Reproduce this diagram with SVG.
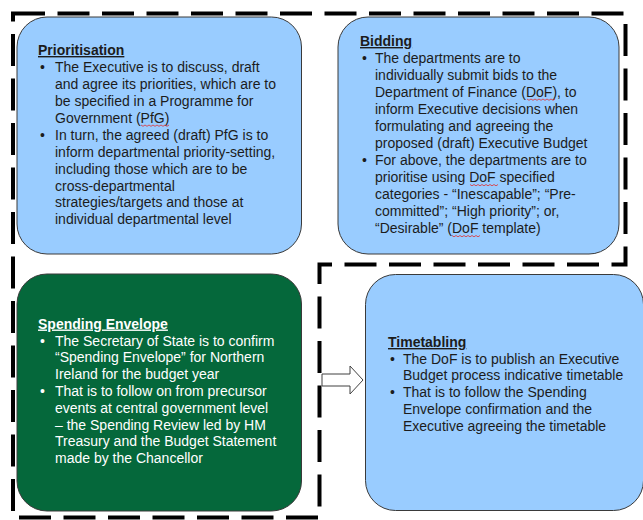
<svg xmlns="http://www.w3.org/2000/svg" xmlns:xlink="http://www.w3.org/1999/xlink" width="643" height="520" viewBox="0 0 643 520">
<style>
.box{stroke:#3a3a3a;stroke-width:1}
.blue{fill:#99CCFF}
.green{fill:#05683B}
text{font-family:"Liberation Sans",Arial,sans-serif;font-size:14px}
.dk{fill:#1c1c1c}
.wt{fill:#ffffff}
.ttl{font-weight:bold;text-decoration:underline}
.sq{fill:none;stroke:#e03030;stroke-width:0.8}
</style>
<defs>
<path id="squig" d="M0,0 l2,1.3 l2,-1.3 l2,1.3 l2,-1.3 l2,1.3 l2,-1.3 l2,1.3 l2,-1.3 l2,1.3 l2,-1.3 l2,1.3 l2,-1.3 l2,1.3 l2,-1.3"/>
</defs>
<rect width="643" height="520" fill="#ffffff"/>
<g id="connectors">
<path d="M13,13.5 H625.5 V264.5 H319.5 V517.5 H13 Z" fill="none" stroke="#000" stroke-width="4" stroke-dasharray="32 12.5"/>
<polygon points="322,374 350,374 350,366 363,380 350,394 350,386 322,386" fill="#ffffff" stroke="#404040" stroke-width="1"/>
</g>
<g id="prioritisation">
<rect class="box blue" x="17" y="17" width="284.5" height="237" rx="30"/>
<text class="dk ttl" x="38" y="55">Prioritisation</text>
<text class="dk">
<tspan x="40" y="72">•</tspan><tspan x="55" y="72">The Executive is to discuss, draft</tspan>
<tspan x="55" y="89">and agree its priorities, which are to</tspan>
<tspan x="55" y="106">be specified in a Programme for</tspan>
<tspan x="55" y="123">Government (PfG)</tspan>
<tspan x="40" y="140">•</tspan><tspan x="55" y="140">In turn, the agreed (draft) PfG is to</tspan>
<tspan x="55" y="157">inform departmental priority-setting,</tspan>
<tspan x="55" y="174">including those which are to be</tspan>
<tspan x="55" y="191">cross-departmental</tspan>
<tspan x="55" y="207">strategies/targets and those at</tspan>
<tspan x="55" y="224">individual departmental level</tspan>
</text>
<use href="#squig" class="sq" x="141" y="125"/>
</g>
<g id="bidding">
<rect class="box blue" x="338" y="17" width="281" height="237" rx="30"/>
<text class="dk ttl" x="360" y="46">Bidding</text>
<text class="dk">
<tspan x="362" y="63">•</tspan><tspan x="375" y="63">The departments are to</tspan>
<tspan x="375" y="80">individually submit bids to the</tspan>
<tspan x="375" y="97">Department of Finance (DoF), to</tspan>
<tspan x="375" y="114">inform Executive decisions when</tspan>
<tspan x="375" y="131">formulating and agreeing the</tspan>
<tspan x="375" y="147.5">proposed (draft) Executive Budget</tspan>
<tspan x="362" y="164.5">•</tspan><tspan x="375" y="164.5">For above, the departments are to</tspan>
<tspan x="375" y="181.5">prioritise using DoF specified</tspan>
<tspan x="375" y="198.5">categories - “Inescapable”; “Pre-</tspan>
<tspan x="375" y="215.5">committed”; “High priority”; or,</tspan>
<tspan x="375" y="232.5">“Desirable” (DoF template)</tspan>
</text>
<use href="#squig" class="sq" x="527" y="99"/>
<use href="#squig" class="sq" x="470" y="184.5"/>
<use href="#squig" class="sq" x="452" y="235.5"/>
</g>
<g id="spending-envelope">
<rect class="box green" x="17" y="274" width="284.5" height="237" rx="30"/>
<text class="wt ttl" x="38" y="328.5">Spending Envelope</text>
<text class="wt">
<tspan x="40" y="345.5">•</tspan><tspan x="55" y="345.5">The Secretary of State is to confirm</tspan>
<tspan x="55" y="362">“Spending Envelope” for Northern</tspan>
<tspan x="55" y="379">Ireland for the budget year</tspan>
<tspan x="40" y="396">•</tspan><tspan x="55" y="396">That is to follow on from precursor</tspan>
<tspan x="55" y="412.5">events at central government level</tspan>
<tspan x="55" y="429.5">– the Spending Review led by HM</tspan>
<tspan x="55" y="446">Treasury and the Budget Statement</tspan>
<tspan x="55" y="463">made by the Chancellor</tspan>
</text>
</g>
<g id="timetabling">
<rect class="box blue" x="365.5" y="274.5" width="278" height="236" rx="30"/>
<text class="dk ttl" x="388" y="347">Timetabling</text>
<text class="dk">
<tspan x="390" y="363.5">•</tspan><tspan x="403" y="363.5">The DoF is to publish an Executive</tspan>
<tspan x="403" y="380">Budget process indicative timetable</tspan>
<tspan x="390" y="397">•</tspan><tspan x="403" y="397">That is to follow the Spending</tspan>
<tspan x="403" y="414">Envelope confirmation and the</tspan>
<tspan x="403" y="430.5">Executive agreeing the timetable</tspan>
</text>
</g>
</svg>
